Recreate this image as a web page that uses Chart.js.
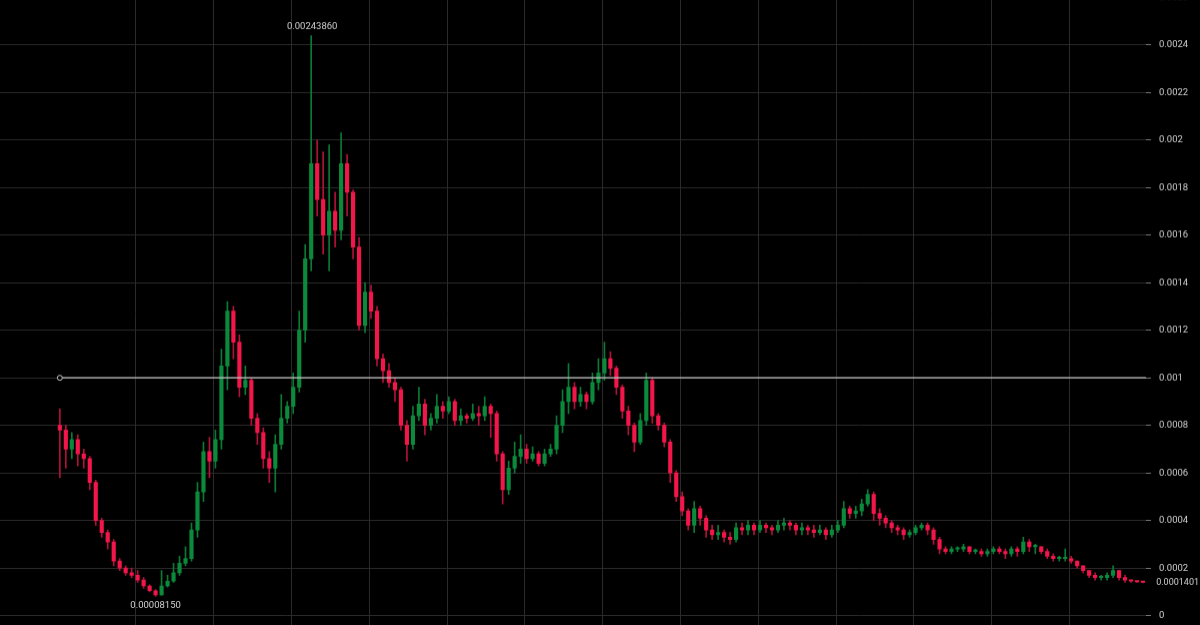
<!DOCTYPE html>
<html><head><meta charset="utf-8">
<script src="https://cdn.jsdelivr.net/npm/chart.js@4.4.1/dist/chart.umd.min.js"></script>
<style>html,body{margin:0;padding:0;background:#000;overflow:hidden;}#outer{width:1200px;height:625px;overflow:hidden;position:relative;}#wrap{position:absolute;left:0;top:0;width:1200px;height:625px;}</style>
</head><body><div id="outer"><div id="wrap"><canvas id="c"></canvas></div></div>
<script>
// prices in units of 0.0001
const opens = [8.0,7.8,7.0,7.4,6.8,6.6,5.6,4.0,3.5,3.1,
2.3,2.0,1.8,1.7,1.5,1.25,1.05,0.88,1.25,1.45,
1.8,2.2,2.4,3.6,5.2,6.9,6.5,7.4,10.5,12.8,
11.5,9.6,9.9,8.3,7.7,6.6,6.2,7.2,8.3,8.8,
9.6,12.0,15.0,19.0,17.5,16.0,17.0,16.2,19.0,17.8,
15.5,12.2,13.6,12.8,10.8,10.3,9.8,9.5,8.0,7.2,
8.4,8.9,8.0,8.3,8.8,8.6,9.0,8.2,8.4,8.3,
8.5,8.4,8.8,8.5,6.8,5.3,6.2,6.7,7.0,6.6,
6.8,6.4,6.8,7.0,8.0,9.0,9.6,9.0,9.3,9.0,
9.8,10.2,10.8,10.4,9.6,8.6,8.0,7.3,8.2,9.9,
8.4,8.0,7.3,6.0,5.0,4.4,3.8,4.5,4.1,3.6,
3.4,3.5,3.3,3.2,3.7,3.6,3.8,3.6,3.8,3.7,
3.6,3.8,3.9,3.8,3.6,3.7,3.6,3.5,3.6,3.4,
3.6,3.8,4.5,4.3,4.4,4.7,5.1,4.3,4.1,3.9,
3.7,3.6,3.4,3.5,3.7,3.8,3.6,3.2,2.8,2.7,
2.8,2.8,2.9,2.7,2.7,2.6,2.7,2.8,2.7,2.6,
2.8,2.7,3.1,2.9,2.9,2.7,2.5,2.4,2.4,2.4,
2.3,2.1,1.9,1.7,1.6,1.6,1.7,1.9,1.6,1.5,1.45,1.42];
const highs = [8.7,8.0,7.7,7.6,7.0,6.7,5.7,4.1,3.6,3.2,
2.4,2.1,2.0,1.9,1.6,1.3,1.1,1.9,1.7,2.2,
2.5,2.9,3.9,5.6,7.3,7.5,7.8,11.2,13.2,13.0,
11.8,10.5,10.0,8.5,7.9,6.9,7.6,9.3,9.0,10.2,
12.8,15.6,24.386,20.0,19.5,19.8,17.8,20.3,19.4,17.9,
15.9,14.0,13.9,13.0,11.0,10.6,10.0,9.6,8.2,8.8,
9.6,9.1,8.5,9.3,9.0,9.2,9.1,8.7,8.5,8.9,
8.8,9.2,8.9,8.6,6.9,6.5,7.3,7.6,7.2,7.1,
6.9,7.0,7.2,8.4,9.5,10.6,9.8,9.6,9.4,10.2,
10.8,11.5,11.1,10.5,9.7,8.8,8.1,8.5,10.2,10.0,
8.5,8.1,7.4,6.1,5.2,4.5,4.8,4.6,4.2,3.8,
3.8,3.6,3.5,3.9,3.9,4.0,3.9,4.0,3.9,3.8,
4.0,4.1,4.0,3.9,3.9,3.8,3.8,3.8,3.7,3.8,
4.0,4.8,4.6,4.6,4.9,5.3,5.2,4.5,4.2,4.0,
3.8,3.7,3.6,3.8,3.9,3.9,3.7,3.3,2.9,2.9,
2.9,3.0,2.9,2.8,2.8,2.8,2.9,2.9,2.8,2.9,
2.9,3.3,3.2,3.0,2.9,2.8,2.6,2.5,2.8,2.5,
2.3,2.1,1.9,1.8,1.7,1.8,2.1,1.9,1.7,1.5,1.46,1.43];
const lows = [5.8,6.2,6.6,6.3,6.2,5.3,3.8,3.3,2.8,2.1,
1.9,1.7,1.6,1.4,1.15,1.0,0.815,0.85,1.2,1.4,
1.7,2.1,2.3,3.3,4.8,5.8,6.2,7.0,9.5,10.8,
9.2,9.3,8.0,7.2,6.2,5.6,5.2,7.0,8.1,8.5,
9.4,11.5,14.5,16.8,15.2,14.5,15.5,15.8,16.8,15.0,
12.0,11.9,12.5,10.5,9.8,9.6,9.0,7.8,6.5,7.0,
8.2,7.6,7.8,8.1,8.3,8.5,8.0,8.0,8.1,8.2,
8.0,8.2,7.5,6.5,4.7,5.1,6.0,6.4,6.4,6.5,
6.3,6.3,6.7,6.8,7.7,8.5,8.7,8.8,8.7,8.9,
9.5,9.9,10.1,9.3,8.3,7.6,6.9,7.2,8.0,8.1,
7.8,7.1,5.6,4.8,4.2,3.6,3.5,3.8,3.3,3.2,
3.2,3.1,3.0,3.1,3.4,3.4,3.4,3.5,3.5,3.4,
3.5,3.6,3.6,3.4,3.4,3.4,3.3,3.4,3.2,3.3,
3.5,3.7,4.1,4.1,4.2,4.6,4.0,3.8,3.7,3.5,
3.4,3.2,3.3,3.4,3.6,3.4,3.0,2.6,2.6,2.6,
2.7,2.7,2.6,2.6,2.5,2.5,2.6,2.6,2.4,2.5,
2.5,2.6,2.7,2.6,2.6,2.4,2.3,2.3,2.3,2.2,
2.0,1.8,1.6,1.5,1.5,1.5,1.6,1.5,1.4,1.4,1.40,1.38];
const closes = [7.8,7.0,7.4,6.8,6.6,5.6,4.0,3.5,3.1,2.3,
2.0,1.8,1.7,1.5,1.25,1.05,0.88,1.25,1.45,1.8,
2.2,2.4,3.6,5.2,6.9,6.5,7.4,10.5,12.8,11.5,
9.6,9.9,8.3,7.7,6.6,6.2,7.2,8.3,8.8,9.6,
12.0,15.0,19.0,17.5,16.0,17.0,16.2,19.0,17.8,15.5,
12.2,13.6,12.8,10.8,10.3,9.8,9.5,8.0,7.2,8.4,
8.9,8.0,8.3,8.8,8.6,9.0,8.2,8.4,8.3,8.5,
8.4,8.8,8.5,6.8,5.3,6.2,6.7,7.0,6.6,6.8,
6.4,6.8,7.0,8.0,9.0,9.6,9.0,9.3,9.0,9.8,
10.2,10.8,10.4,9.6,8.6,8.0,7.3,8.2,9.9,8.4,
8.0,7.3,6.0,5.0,4.4,3.8,4.5,4.1,3.6,3.4,
3.5,3.3,3.2,3.7,3.6,3.8,3.6,3.8,3.7,3.6,
3.8,3.9,3.8,3.6,3.7,3.6,3.5,3.6,3.4,3.6,
3.8,4.5,4.3,4.4,4.7,5.1,4.3,4.1,3.9,3.7,
3.6,3.4,3.5,3.7,3.8,3.6,3.2,2.8,2.7,2.8,
2.8,2.9,2.7,2.7,2.6,2.7,2.8,2.7,2.6,2.8,
2.7,3.1,2.9,2.9,2.7,2.5,2.4,2.4,2.4,2.3,
2.1,1.9,1.7,1.6,1.6,1.7,1.9,1.6,1.5,1.45,1.42,1.40];
const yTicks = [0,2,4,6,8,10,12,14,16,18,20,22,24,26];
const refLevel = 10;          // 0.001
const peakLabel = "0.00243860", peakIdx = 42, peakVal = 24.386;
const lowLabel = "0.00008150", lowIdx = 16, lowVal = 0.815;
const lastLabel = "0.0001401", lastVal = 1.401;

const UP = '#0b8a3c', DOWN = '#f2164a', UPW = '#0b7a35', DOWNW = '#b0123a';
const FONT = 'Roboto';
const idx = closes.map((_, i) => i);
const up = idx.map(i => closes[i] >= opens[i]);
const wickData = idx.map(i => ({x: i, y: [lows[i], highs[i]]}));
const bodyData = idx.map(i => {
  let a = Math.min(opens[i], closes[i]), b = Math.max(opens[i], closes[i]);
  if (b - a < 0.06) b = a + 0.06;
  return {x: i, y: [a, b]};
});

const labelsPlugin = {
  id: 'labels',
  afterDatasetsDraw(chart) {
    const {ctx, scales: {x, y}} = chart;
    ctx.save();
    ctx.font = '9.5px ' + FONT;
    ctx.fillStyle = '#cfcfcf';
    ctx.textAlign = 'center';
    ctx.textBaseline = 'bottom';
    ctx.fillText(peakLabel, x.getPixelForValue(peakIdx) + 1, y.getPixelForValue(peakVal) - 4);
    ctx.textBaseline = 'top';
    ctx.fillText(lowLabel, x.getPixelForValue(lowIdx), y.getPixelForValue(lowVal) + 5);
    ctx.font = '9px ' + FONT;
    ctx.textAlign = 'right';
    ctx.textBaseline = 'middle';
    ctx.fillText(lastLabel, chart.chartArea.right + 53, y.getPixelForValue(lastVal));
    ctx.restore();
  }
};

const chart = new Chart(document.getElementById('c'), {
  data: {
    datasets: [
      {type: 'line', data: [{x: 0, y: refLevel}, {x: 200, y: refLevel}], borderColor: '#c8c8c8', borderWidth: 1.2,
       pointRadius: [2.5, 0], pointBackgroundColor: '#000', pointBorderColor: '#c8c8c8', pointBorderWidth: 1, order: 0},
      {type: 'bar', data: wickData, backgroundColor: up.map(u => u ? UPW : DOWNW), barThickness: 1, grouped: false, order: 2},
      {type: 'bar', data: bodyData, backgroundColor: up.map(u => u ? UP : DOWN), barThickness: 3.5, grouped: false, order: 1}
    ]
  },
  options: {
    responsive: true, maintainAspectRatio: false, animation: false,
    layout: {padding: 0},
    plugins: {legend: {display: false}, tooltip: {enabled: false}},
    scales: {
      x: {type: 'linear', min: -10, max: 181.5, offset: false,
          afterBuildTicks(s) { const t = []; for (let v = 19.2; v < 181; v += 13) t.push({value: v}); s.ticks = t; },
          ticks: {display: false}, border: {display: false},
          grid: {color: '#2a2a2a', lineWidth: 1, drawTicks: false}},
      y: {position: 'right', min: -0.421, max: 25.895,
          afterBuildTicks(s) { s.ticks = yTicks.map(v => ({value: v})); },
          afterFit(s) { s.width = 54; },
          ticks: {color: '#cfcfcf', font: {size: 9.5, family: FONT}, padding: 8,
                  callback: v => (v / 10000).toString()},
          border: {display: false},
          grid: {color: '#2a2a2a', tickColor: '#777', tickLength: 5}}
    }
  },
  plugins: [labelsPlugin]
});
const a = chart.chartArea;
const pl = a.left, pt = a.top, pb = chart.height - a.bottom;
const wrap = document.getElementById('wrap');
wrap.style.width = (1200 + pl) + 'px';
wrap.style.height = (625 + pt + pb) + 'px';
wrap.style.left = (-pl) + 'px';
wrap.style.top = (-pt) + 'px';
chart.resize();
</script></body></html>
